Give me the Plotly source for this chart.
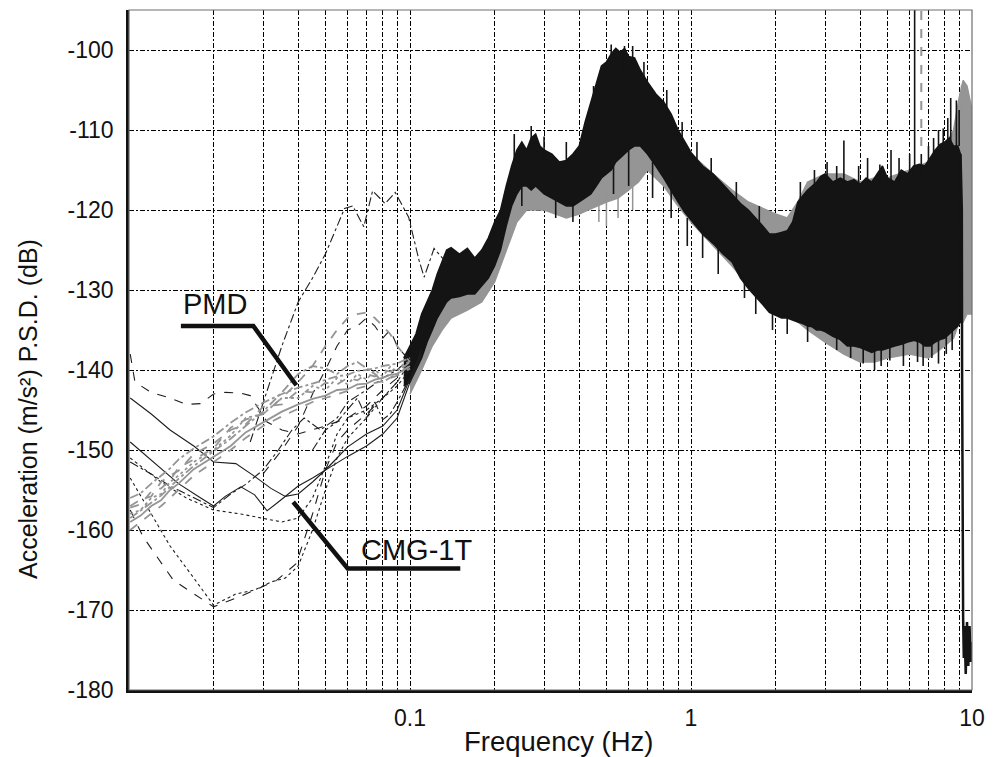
import math
import plotly.graph_objects as go

# ---------------- data (frequency in Hz, PSD in dB) ----------------
# CMG-1T record band (envelope of all spectra), 0.1 - 9 Hz
cmg_f = [0.095, 0.1, 0.105, 0.11, 0.115, 0.12, 0.125, 0.13, 0.135, 0.14, 0.15, 0.16, 0.17, 0.18,
         0.19, 0.2, 0.21, 0.22, 0.23, 0.24, 0.25, 0.26, 0.27, 0.28, 0.29, 0.3, 0.32, 0.34, 0.36,
         0.38, 0.4, 0.42, 0.44, 0.46, 0.48, 0.5, 0.52, 0.54, 0.56, 0.58, 0.6, 0.63, 0.66, 0.7,
         0.75, 0.8, 0.85, 0.9, 0.95, 1.0, 1.1, 1.2, 1.3, 1.4, 1.5, 1.6, 1.7, 1.8, 1.9, 2.0, 2.1,
         2.2, 2.3, 2.4, 2.5, 2.6, 2.7, 2.8, 2.9, 3.0, 3.2, 3.4, 3.6, 3.8, 4.0, 4.2, 4.4, 4.6, 4.8,
         5.0, 5.3, 5.6, 5.9, 6.2, 6.5, 6.8, 7.1, 7.4, 7.7, 8.0, 8.3, 8.6, 8.9, 9.1]
cmg_hi = [-138.5, -137, -135.5, -133, -131.5, -130, -128, -126.5, -125, -124.7, -125.5, -124.8,
          -126, -125, -123.5, -121.5, -120, -117, -114.5, -112.5, -111.5, -112.5, -111, -110.5,
          -112, -112.5, -113, -114, -113.8, -113, -112, -109, -106.5, -104, -102, -101.5, -100.5,
          -99.8, -100.3, -99.8, -100.8, -101, -102.5, -104, -105.5, -106.5, -108, -110, -111.5,
          -112.8, -114.5, -115.5, -116.8, -118, -119.2, -120, -121, -122, -123, -123, -122.8,
          -122.6, -121.5, -119, -118.2, -117.5, -117, -116.5, -115.8, -115.5, -116.5, -116,
          -116.5, -116.2, -116.8, -116, -116.5, -115.5, -114.5, -116, -116.5, -115, -115.5,
          -114.5, -114.3, -114.5, -113.5, -112.5, -111.8, -111.5, -111, -112, -112, -113]
cmg_lo = [-142, -141.5, -140, -138.5, -136.5, -135, -133.5, -132.5, -131.5, -131, -130.8, -130.5,
          -130.5, -129.5, -128.5, -127, -125, -122, -119.5, -118, -117, -117, -117.5, -117,
          -117.5, -118, -118.5, -119, -119.5, -119.5, -119, -118.5, -118, -117, -116, -115.5,
          -115, -114, -113.5, -113, -112.5, -112, -112, -113, -114.5, -116, -117.5, -119,
          -120.3, -121.3, -123, -124.2, -125.5, -126.5, -128.5, -129.8, -130.8, -131.8, -132.8,
          -133.2, -133.5, -133.5, -133.8, -134, -134.2, -134.5, -134.6, -135, -135, -135.2,
          -135.8, -136.2, -137, -137, -137.2, -137.5, -137.8, -137.5, -137.5, -137.3, -137, -136.8,
          -136.5, -136.3, -136.5, -137, -137, -136.5, -136.2, -136, -135.5, -135, -134.5, -134]

# CMG-1T narrow spikes along both edges: frequency, spike tip, spike root
cmg_spike_f = [0.235, 0.27, 0.3, 0.36, 0.45, 0.52, 0.58, 0.62, 0.68, 0.82, 0.93, 1.05, 1.18, 1.45,
               1.75, 0.25, 0.33, 0.38, 0.53, 0.6, 0.73, 0.85, 0.97, 1.1, 1.25, 1.55, 1.7, 1.95,
               2.2, 2.45, 2.6, 2.75, 3.05, 3.3, 3.3, 3.5, 3.7, 3.95, 4.1, 4.25, 4.5, 4.7, 4.75,
               5.1, 5.15, 5.5, 5.7, 6.0, 6.25, 6.4, 6.6, 6.7, 7.0, 7.2, 7.3, 7.6, 7.6, 7.9, 8.1,
               8.2, 8.4, 8.5, 8.8, 9.0]
cmg_spike_tip = [-110.5, -109.5, -110.8, -111.5, -104.5, -99.3, -99.5, -99.5, -101.5, -105, -109,
                 -111.5, -113.5, -116.5, -119.5, -119.5, -121, -121.5, -118, -117, -118.5, -121,
                 -124.5, -126, -128, -131, -133, -135, -135.5, -116.5, -136.5, -115, -114,
                 -114.5, -137.5, -111.3, -138.5, -114.5, -139.2, -113.5, -140, -114.3, -139.5,
                 -138.8, -112.5, -113.5, -139.5, -113, -95, -139, -113, -139.5, -112, -138.5,
                 -111, -110, -139.2, -109.8, -138, -108.5, -106, -137.5, -106.3, -107.5]
cmg_spike_root = [-114, -113, -114, -115, -108, -103, -103, -102, -104, -108, -112, -114, -116,
                  -119, -122, -116.5, -118, -119, -114, -112.5, -114, -117.5, -121, -122, -124,
                  -128, -130.8, -133, -133, -120, -134, -119, -117, -117, -135, -117, -136, -118,
                  -137, -117, -137, -117, -137, -137, -117, -117, -136.5, -116, -116, -136, -116,
                  -136, -115, -136, -114, -113, -136, -113, -135.5, -112, -112, -135, -112, -112]

# CMG-1T roll-off at the Nyquist end
cmg_tail_f = [9.1, 9.2, 9.22, 9.25, 9.3, 9.35, 9.4, 9.5, 9.6, 9.7, 9.8, 9.9, 10.0]
cmg_tail_db = [-113, -120, -140, -165, -171, -176, -172, -178, -171.5, -177, -172, -176.5, -174]

# PMD record band (envelope), 0.1 - 10 Hz
pmd_f = [0.1, 0.11, 0.12, 0.13, 0.14, 0.16, 0.18, 0.2, 0.22, 0.24, 0.26, 0.28, 0.3, 0.33, 0.36,
         0.4, 0.43, 0.46, 0.5, 0.55, 0.6, 0.65, 0.7, 0.8, 0.9, 1.0, 1.2, 1.4, 1.6, 1.8, 2.0, 2.2,
         2.4, 2.6, 3.0, 3.5, 4.0, 4.5, 5.0, 6.0, 7.0, 8.0, 8.6, 9.0, 9.3, 9.6, 10.0]
pmd_hi = [-139, -135, -132, -129, -127, -126.5, -126.5, -123, -118.5, -115, -114, -114, -114.5,
          -115, -115.5, -114.5, -111, -108, -105, -103, -102.5, -103.5, -105, -108, -111,
          -113, -115.5, -117.5, -119, -119.8, -120.5, -121, -119, -116.5, -115.5, -115.5,
          -116.5, -116, -116, -115, -114, -112, -110, -106, -103.8, -104.5, -107.5]
pmd_lo = [-143, -140, -137, -135, -133.5, -132.5, -131.5, -129, -125, -121.5, -120, -120, -120,
          -120.5, -121, -120.5, -120, -119.5, -119, -118.5, -117.5, -116.5, -115, -117, -119.5,
          -121.5, -124.5, -127, -129.5, -131, -132, -133, -134, -135, -136.5, -138, -139, -139,
          -138.5, -138, -138.5, -137, -136, -134, -134, -133, -133]

pmd_spike_f = [0.47, 0.5, 0.55, 0.62, 6.6, 9.2, 9.45, 9.75]
pmd_spike_tip = [-121.5, -122, -121, -120, -95, -104, -103.5, -106]
pmd_spike_root = [-118, -118, -118, -117, -112, -110, -110, -110]

# Long-period part: individual spectra below 0.1 Hz
lf_f = [0.0101, 0.011, 0.012, 0.013, 0.014, 0.015, 0.017, 0.02, 0.023, 0.026, 0.03, 0.035, 0.04,
        0.045, 0.05, 0.055, 0.06, 0.065, 0.07, 0.075, 0.08, 0.085, 0.09, 0.095, 0.1]
pmd_lf = [
    [-157, -156.2, -155.8, -154, -153.2, -152.6, -150.5, -149.2, -147.5, -146.8, -144.6, -144.3,
     -142.6, -142.8, -141.6, -141.8, -141, -141.3, -140.5, -140.8, -140, -140.2, -139.8, -139.6, -139],
    [-159, -158.2, -157, -156.3, -155, -154.2, -152.4, -150.8, -149.5, -147.8, -146.5, -145.2,
     -144.3, -143.6, -143.2, -142.5, -142.4, -141.8, -141.7, -141.2, -141, -140.6, -140.5, -140, -139.5],
    [-156, -155.4, -154.2, -153.2, -152.3, -151.2, -149.8, -148.3, -146.6, -145.3, -144.1, -143,
     -142.2, -141.7, -141.2, -140.8, -140.6, -140.1, -140, -139.8, -139.5, -139.3, -139.2, -138.8, -138.5],
    [-160, -159, -158, -157, -156, -155, -153.2, -151.5, -150, -148.5, -147, -145.8, -144.8, -144,
     -143.5, -143, -142.6, -142.3, -142, -141.6, -141.4, -141, -140.7, -140.3, -139.8],
    [-158, -157.5, -156, -155.5, -154, -153.2, -151.5, -150, -148.2, -146, -145.5, -143.5, -143.5,
     -142, -142.5, -141, -141.8, -140.5, -141.2, -140, -140.8, -139.6, -140.2, -139.2, -139],
    [-157.2, -156.8, -155.2, -154.8, -153.8, -152.2, -151.2, -149.8, -147.2, -146.2, -145.5,
     -143.5, -141.5, -139.5, -137, -135, -133.5, -133, -132.8, -133.5, -134.5, -135.5, -137, -138, -139],
    [-158.5, -157.6, -156.6, -155.7, -154.6, -153.6, -152, -150.2, -148.6, -147, -145.2, -142.8,
     -140.5, -139.5, -139.8, -140.5, -139.5, -139, -139.8, -140.5, -141.5, -141, -140.5, -140, -139.5],
]
pmd_lf_dash = ["dash", "solid", "dashdot", "dash", "dot", "dash", "dashdot"]

# CMG-1T long-period spectra: (frequencies, levels, line style)
cmg_lf = [
    ([0.027, 0.031, 0.035, 0.04, 0.045, 0.05, 0.055, 0.0585, 0.0626, 0.0685, 0.0736, 0.0816,
      0.0886, 0.0989, 0.1077, 0.1123, 0.1218, 0.1359],
     [-149, -142.5, -137, -131.5, -128.5, -125.5, -122, -119.8, -119.5, -122.1, -117.6, -119.2,
      -117.8, -120.9, -126.3, -128.4, -124.8, -126.7], "dashdot"),
    ([0.0101, 0.0112, 0.0144, 0.02, 0.0249, 0.0335, 0.0394, 0.045, 0.05, 0.055, 0.06, 0.07, 0.08,
      0.09, 0.1],
     [-157.5, -160.8, -166.3, -169.6, -168.3, -166.3, -164.2, -158, -152.5, -149, -147.5, -145.5,
      -143.5, -141.5, -139.5], "dash"),
    ([0.0101, 0.012, 0.014, 0.017, 0.02, 0.024, 0.028, 0.032, 0.036, 0.04, 0.045, 0.05, 0.055,
      0.06, 0.07, 0.08, 0.09, 0.1],
     [-153.5, -158, -162, -166, -169.4, -168, -167.5, -166.5, -166, -164.5, -160, -155, -151,
      -148.5, -146, -143.5, -141.5, -139], "dot"),
    ([0.0101, 0.012, 0.014, 0.017, 0.02, 0.024, 0.028, 0.032, 0.036, 0.04, 0.045, 0.05, 0.055,
      0.06, 0.07, 0.08, 0.09, 0.1, 0.11],
     [-143.5, -145.5, -147.5, -149.5, -151.5, -151.7, -153.3, -154.8, -155.8, -155.5, -154, -152.5,
      -151, -149.6, -148, -147, -145, -141, -137.5], "solid"),
    ([0.0101, 0.012, 0.015, 0.018, 0.02, 0.022, 0.025, 0.028, 0.031, 0.034, 0.037, 0.04, 0.045,
      0.05, 0.06, 0.07, 0.08, 0.09, 0.1, 0.11],
     [-149, -151.3, -154.2, -156, -157, -155.8, -154.6, -155.6, -157.6, -156.5, -155.5, -154.5,
      -153.5, -152.5, -150.8, -149.5, -148, -146, -141.5, -138], "solid"),
    ([0.0101, 0.0105, 0.012, 0.014, 0.016, 0.018, 0.02, 0.022, 0.025, 0.027, 0.031, 0.035, 0.04,
      0.05, 0.06, 0.07, 0.08, 0.09, 0.1],
     [-138, -141.5, -142.8, -143.5, -144.3, -144.2, -143, -142.8, -142.9, -143.2, -146.5, -147.5,
      -148, -147, -146, -144.5, -142.5, -141, -139], "dash"),
    ([0.0101, 0.012, 0.014, 0.017, 0.02, 0.023, 0.026, 0.03, 0.034, 0.038, 0.042, 0.048, 0.055,
      0.06, 0.07, 0.08, 0.09, 0.1],
     [-151.5, -153, -154.5, -156, -157.2, -155.5, -154.3, -152.5, -150, -147.5, -146, -147.5,
      -146, -144, -142.5, -141, -140, -138.5], "dashdot"),
    ([0.0101, 0.013, 0.016, 0.02, 0.025, 0.03, 0.035, 0.04, 0.045, 0.05, 0.055, 0.06, 0.07, 0.08,
      0.09, 0.1],
     [-151, -154, -156, -157.5, -158, -158.5, -159, -158.5, -156, -152, -148, -146, -145, -143.5,
      -142, -140], "dot"),
    ([0.03, 0.035, 0.04, 0.045, 0.05, 0.055, 0.06, 0.065, 0.07, 0.075, 0.08, 0.085, 0.09, 0.095, 0.1],
     [-153, -150, -147, -143, -140, -137, -135, -134.5, -133.5, -134.5, -136, -135, -137, -138,
      -138.5], "dash"),
    ([0.045, 0.05, 0.055, 0.06, 0.065, 0.07, 0.075, 0.08, 0.085, 0.09, 0.1],
     [-150, -147.5, -146.5, -145, -143.5, -146, -144, -146.2, -145.5, -144, -141], "dashdot"),
]

# Callout labels: text, label anchor, leader polyline
callouts = [
    ("PMD", (0.0153, -131.8), [0.0153, 0.0277, 0.0394], [-134.5, -134.5, -141.9]),
    ("CMG-1T", (0.066, -162.5), [0.0384, 0.060, 0.151], [-156.5, -164.8, -164.8]),
]

y_ticks = [-180, -170, -160, -150, -140, -130, -120, -110, -100]
x_grid = [0.02, 0.03, 0.04, 0.05, 0.06, 0.07, 0.08, 0.09, 0.1, 0.2, 0.3, 0.4, 0.5, 0.6, 0.7,
          0.8, 0.9, 1, 2, 3, 4, 5, 6, 7, 8, 9, 10]
x_labels = {0.1: "0.1", 1: "1", 10: "10"}

BLACK = "#141414"
GREY = "#959595"
FONT = "Liberation Sans, Arial, Helvetica, sans-serif"


def band(f, hi, lo, color):
    return go.Scatter(x=list(f) + list(f)[::-1], y=list(hi) + list(lo)[::-1], mode="lines",
                      fill="toself", fillcolor=color, line=dict(color=color, width=1.5),
                      hoverinfo="skip", showlegend=False)


def spikes(f, tip, root, color, width, dash="solid"):
    xs, ys = [], []
    for fi, t, r in zip(f, tip, root):
        xs += [fi, fi, None]
        ys += [r, t, None]
    return go.Scatter(x=xs, y=ys, mode="lines", line=dict(color=color, width=width, dash=dash),
                      hoverinfo="skip", showlegend=False)


fig = go.Figure()

# PMD band underneath, CMG-1T band on top
fig.add_trace(band(pmd_f, pmd_hi, pmd_lo, GREY))
fig.add_trace(spikes(pmd_spike_f[:4], pmd_spike_tip[:4], pmd_spike_root[:4], GREY, 1.5))
fig.add_trace(spikes(pmd_spike_f[4:], pmd_spike_tip[4:], pmd_spike_root[4:], GREY, 2, "dash"))
fig.add_trace(band(cmg_f, cmg_hi, cmg_lo, BLACK))
fig.add_trace(spikes(cmg_spike_f, cmg_spike_tip, cmg_spike_root, BLACK, 1.6))
fig.add_trace(go.Scatter(x=cmg_tail_f, y=cmg_tail_db, mode="lines",
                         line=dict(color=BLACK, width=2.5), hoverinfo="skip", showlegend=False))

# long-period individual spectra
for f, db, dash in cmg_lf:
    fig.add_trace(go.Scatter(x=f, y=db, mode="lines", line=dict(color="#1e1e1e", width=1.1, dash=dash),
                             hoverinfo="skip", showlegend=False))
for db, dash in zip(pmd_lf, pmd_lf_dash):
    fig.add_trace(go.Scatter(x=lf_f, y=db, mode="lines", line=dict(color=GREY, width=1.8, dash=dash),
                             hoverinfo="skip", showlegend=False))

# callout leaders and labels
for text, (tx, ty), lx, ly in callouts:
    fig.add_trace(go.Scatter(x=lx, y=ly, mode="lines", line=dict(color="#111111", width=4.5),
                             hoverinfo="skip", showlegend=False))
    fig.add_annotation(x=math.log10(tx), y=ty, xref="x", yref="y", text=text, showarrow=False,
                       xanchor="left", yanchor="middle", font=dict(family=FONT, size=29, color="#111111"))

# axis titles
fig.add_annotation(x=0.51, y=-0.075, xref="paper", yref="paper", text="Frequency (Hz)",
                   showarrow=False, xanchor="center", yanchor="middle",
                   font=dict(family=FONT, size=27.5, color="#111111"))
fig.add_annotation(x=-0.12, y=0.413, xref="paper", yref="paper",
                   text="Acceleration (m/s²) P.S.D. (dB)", textangle=-90, showarrow=False,
                   xanchor="center", yanchor="middle", font=dict(family=FONT, size=25, color="#111111"))

# thin frame on top/right
fig.add_shape(type="rect", xref="x domain", yref="y domain", x0=0, x1=1, y0=0, y1=1,
              line=dict(color="#6e6e6e", width=1.2), layer="above")

fig.update_layout(
    width=995, height=757,
    margin=dict(l=129, r=17, t=10, b=67),
    paper_bgcolor="white", plot_bgcolor="white",
    font=dict(family=FONT, color="#111111"),
    showlegend=False,
)
fig.update_xaxes(
    type="log", range=[-2, 1],
    tickvals=x_grid, ticktext=[x_labels.get(v, "") for v in x_grid],
    tickfont=dict(size=23, family=FONT, color="#111111"), ticks="", ticklabelstandoff=6,
    showgrid=True, gridcolor="#000000", gridwidth=1.2, griddash="5px,2px,2px,2px",
    showline=True, linecolor="#111111", linewidth=2.5, zeroline=False,
)
fig.update_yaxes(
    range=[-180, -95], tickvals=y_ticks, ticktext=[str(v) for v in y_ticks],
    tickfont=dict(size=23, family=FONT, color="#111111"), ticks="", ticklabelstandoff=8,
    showgrid=True, gridcolor="#000000", gridwidth=1.2, griddash="5px,2px,2px,2px",
    showline=True, linecolor="#111111", linewidth=2.5, zeroline=False,
)

fig.write_html("out.html")
